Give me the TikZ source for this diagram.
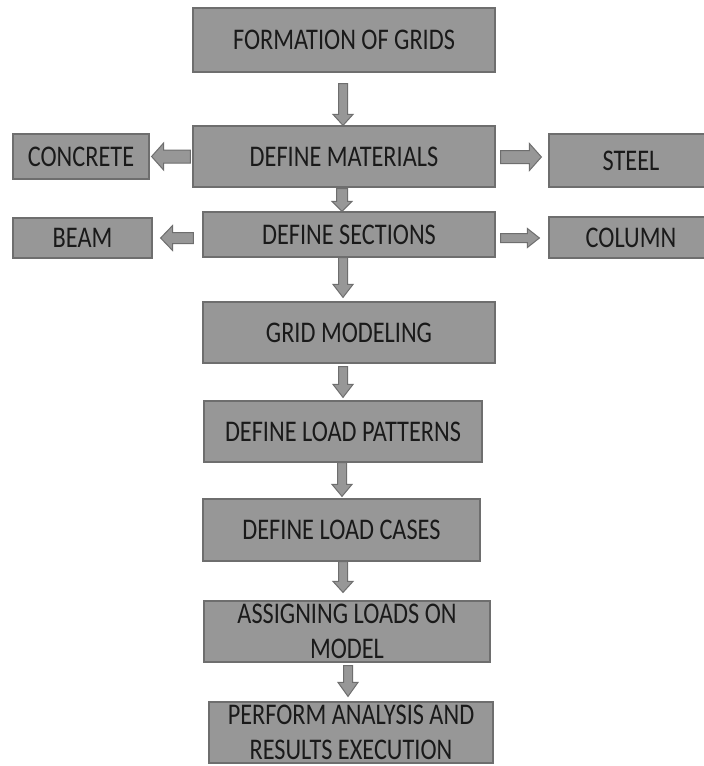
\documentclass[tikz,border=0pt]{standalone}
\usepackage{fontspec}
\setmainfont{Carlito}[FakeStretch=0.81]
\usetikzlibrary{calc}
\definecolor{boxfill}{HTML}{979797}
\definecolor{boxline}{HTML}{6E6E6E}
\definecolor{txt}{HTML}{1A1A1A}
\tikzset{
  stepbox/.style={draw=boxline, line width=1.2pt, fill=boxfill, inner sep=0pt,
    text=txt, font=\fontsize{30}{35}\selectfont, align=center},
  blk/.style={draw=boxline, line width=1pt, fill=boxfill, line join=miter}
}
% horizontal block arrow: from anchor, to anchor, y(px), gap1, gap2, shaft half, head half, head length
\newcommand\arrH[8]{%
  \path[blk] let \p1=(#1), \p2=(#2), \n1={sign(\x2-\x1)},
     \n2={\x1+\n1*#4}, \n3={\x2-\n1*#5}, \n4={\x2-\n1*#5-\n1*#8} in
   ({\n2}, {-#3pt+#6pt}) -- ({\n4}, {-#3pt+#6pt})
   -- ({\n4}, {-#3pt+#7pt}) -- ({\n3}, {-#3pt})
   -- ({\n4}, {-#3pt-#7pt}) -- ({\n4}, {-#3pt-#6pt})
   -- ({\n2}, {-#3pt-#6pt}) -- cycle;}
% vertical (downward) block arrow: from node, to node, x(px), gap1, gap2, shaft half, head half, head length
\newcommand\arrV[8]{%
  \path[blk] let \p1=(#1.south), \p2=(#2.north) in
   ({#3pt-#6pt}, {\y1-#4pt}) -- ({#3pt-#6pt}, {\y2+#5pt+#8pt}) -- ({#3pt-#7pt}, {\y2+#5pt+#8pt})
   -- ({#3pt}, {\y2+#5pt}) -- ({#3pt+#7pt}, {\y2+#5pt+#8pt}) -- ({#3pt+#6pt}, {\y2+#5pt+#8pt})
   -- ({#3pt+#6pt}, {\y1-#4pt}) -- cycle;}
\begin{document}
\begin{tikzpicture}[x=1pt,y=-1pt]
\useasboundingbox (0,0) rectangle (704,766);
\fill[white] (0,0) rectangle (704,766);

\node[stepbox, minimum width=302pt, minimum height=64pt] (form) at (344,40) {FORMATION OF GRIDS};
\node[stepbox, minimum width=302pt, minimum height=61pt] (mat) at (344,156.5) {DEFINE MATERIALS};
\node[stepbox, minimum width=136pt, minimum height=45pt] (conc) at (81,156.5) {CONCRETE};
\node[stepbox, minimum width=156pt, minimum height=53pt] (steel) at (627,160.5) {\hspace*{8pt}STEEL};
\node[stepbox, minimum width=139pt, minimum height=40pt] (beam) at (82.5,238) {BEAM};
\node[stepbox, minimum width=292pt, minimum height=45pt] (sec) at (349,234.5) {DEFINE SECTIONS};
\node[stepbox, minimum width=157pt, minimum height=41pt] (col) at (627.5,237.5) {\hspace*{7pt}COLUMN};
\node[stepbox, minimum width=292pt, minimum height=61pt] (grid) at (349,332.5) {GRID MODELING};
\node[stepbox, minimum width=278pt, minimum height=61pt] (pat) at (343,431.5) {DEFINE LOAD PATTERNS};
\node[stepbox, minimum width=277pt, minimum height=62pt] (cases) at (341.5,530) {DEFINE LOAD CASES};
\node[stepbox, minimum width=286pt, minimum height=61pt] (assign) at (347,631.5) {ASSIGNING LOADS ON\\MODEL};
\node[stepbox, minimum width=284pt, minimum height=61pt] (perf) at (351,732.5) {PERFORM ANALYSIS AND\\RESULTS EXECUTION};

% vertical arrows
\arrV{form}{mat}{343}{11}{0}{4.5}{10}{11}
\arrV{mat}{sec}{342}{1}{0}{5.5}{10}{10}
\arrV{sec}{grid}{343}{0}{4}{4.5}{10}{13}
\arrV{grid}{pat}{343}{3}{3}{4.5}{10}{13}
\arrV{pat}{cases}{342}{0}{2}{4.5}{10}{12}
\arrV{cases}{assign}{343}{0}{8}{4.5}{10}{11}
\arrV{assign}{perf}{348}{3}{5}{4.5}{10}{14}

% horizontal arrows
\arrH{mat.west}{conc.east}{156.5}{2}{2}{6.5}{13.5}{12}
\arrH{sec.west}{beam.east}{238}{9}{8}{5.5}{12.5}{12}
\arrH{mat.east}{steel.west}{157}{5}{7}{6.5}{13.5}{12}
\arrH{sec.east}{col.west}{238}{5}{9}{4.5}{9.5}{12}
\end{tikzpicture}
\end{document}
